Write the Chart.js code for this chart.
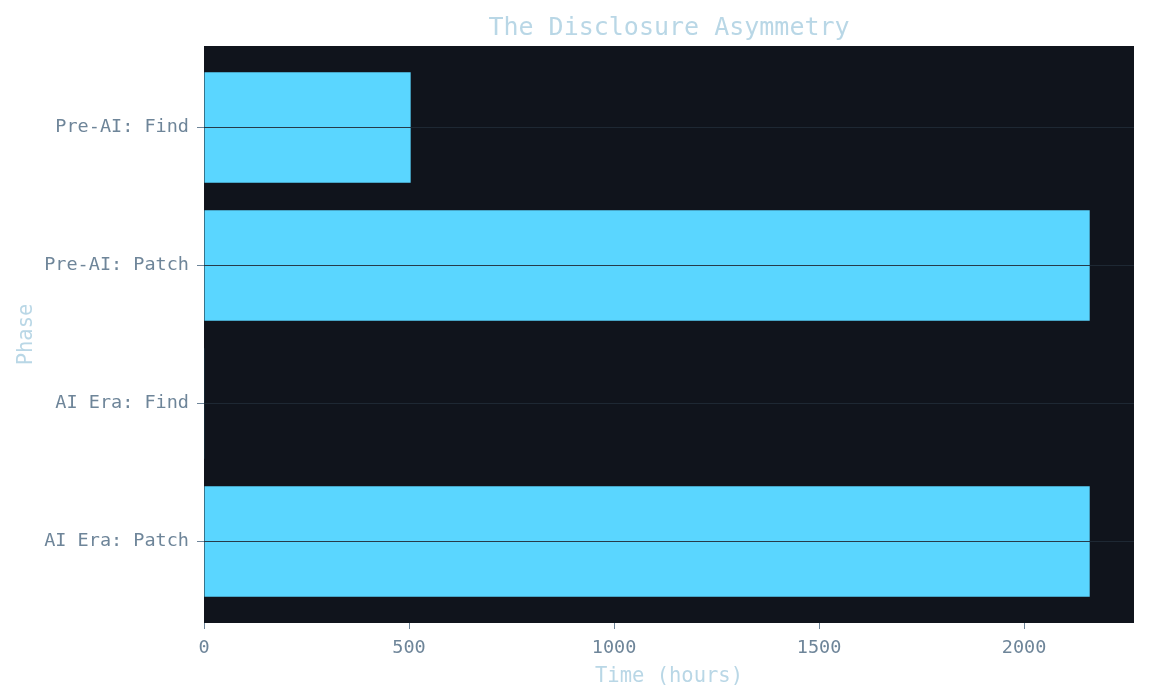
<!DOCTYPE html>
<html>
<head>
<meta charset="utf-8">
<title>The Disclosure Asymmetry</title>
<script src="https://cdn.jsdelivr.net/npm/chart.js@4"></script>
<style>
    html, body { margin: 0; padding: 0; background: #ffffff; }
    #wrap { width: 1149px; height: 700px; }
</style>
</head>
<body>
<div id="wrap"><canvas id="chart"></canvas></div>
<script>
// data
const phases = ['Pre-AI: Find', 'Pre-AI: Patch', 'AI Era: Find', 'AI Era: Patch'];
const hours = [504, 2160, 1, 2160];
const xTicks = [0, 500, 1000, 1500, 2000];

const MONO = "'DejaVu Sans Mono', monospace";
const TICK = '#6e8599';
const LABEL = '#b9d7e6';

// dark plot area behind the bars
const plotBg = {
    id: 'plotBg',
    beforeDraw: function (chart) {
        const a = chart.chartArea;
        const ctx = chart.ctx;
        ctx.save();
        ctx.fillStyle = '#10141c';
        ctx.fillRect(a.left, a.top, a.right - a.left, a.bottom - a.top);
        ctx.restore();
    }
};

new Chart(document.getElementById('chart'), {
    type: 'bar',
    data: {
        datasets: [{
            data: hours.map(function (h, i) { return { x: h, y: i }; }),
            backgroundColor: '#5ad6ff',
            borderWidth: 0,
            borderColor: 'rgba(0,0,0,0)',
            inflateAmount: 0,
            categoryPercentage: 1,
            barPercentage: 0.8
        }]
    },
    options: {
        indexAxis: 'y',
        responsive: true,
        maintainAspectRatio: false,
        animation: false,
        layout: { padding: { left: 0, right: 15, top: 0, bottom: 0 } },
        plugins: {
            legend: { display: false },
            tooltip: { enabled: false },
            title: {
                display: true,
                fullSize: false,
                text: 'The Disclosure Asymmetry',
                color: LABEL,
                font: { family: MONO, size: 25, weight: 'normal' },
                padding: { top: 13, bottom: 3 }
            }
        },
        scales: {
            x: {
                type: 'linear',
                min: 0,
                max: Math.max.apply(null, hours) * 1.05,
                border: { display: false },
                grid: { drawOnChartArea: false, drawTicks: true, tickLength: 6, tickColor: TICK },
                ticks: {
                    color: TICK,
                    font: { family: MONO, size: 18.5 },
                    padding: 8,
                    callback: function (v) { return String(v); }
                },
                afterBuildTicks: function (axis) {
                    axis.ticks = xTicks.map(function (v) { return { value: v }; });
                },
                title: {
                    display: true,
                    text: 'Time (hours)',
                    color: LABEL,
                    font: { family: MONO, size: 20.5 },
                    padding: { top: 0, bottom: 11 }
                },
                afterFit: function (axis) { axis.height = 77; }
            },
            y: {
                type: 'linear',
                reverse: true,
                offset: false,
                min: -0.59,
                max: phases.length - 1 + 0.59,
                z: 1,
                border: { display: false },
                grid: { offset: false, z: 1, color: 'rgba(32,42,54,0.9)', lineWidth: 1, tickLength: 7, tickColor: TICK },
                ticks: {
                    color: TICK,
                    font: { family: MONO, size: 18.5 },
                    padding: 8,
                    callback: function (v) { return phases[v]; }
                },
                afterBuildTicks: function (axis) {
                    axis.ticks = phases.map(function (p, i) { return { value: i }; });
                },
                title: {
                    display: true,
                    text: 'Phase',
                    color: LABEL,
                    font: { family: MONO, size: 20.5 },
                    padding: { top: 14, bottom: 0 }
                },
                afterFit: function (axis) { axis.width = 204; }
            }
        }
    },
    plugins: [plotBg]
});
</script>
</body>
</html>
